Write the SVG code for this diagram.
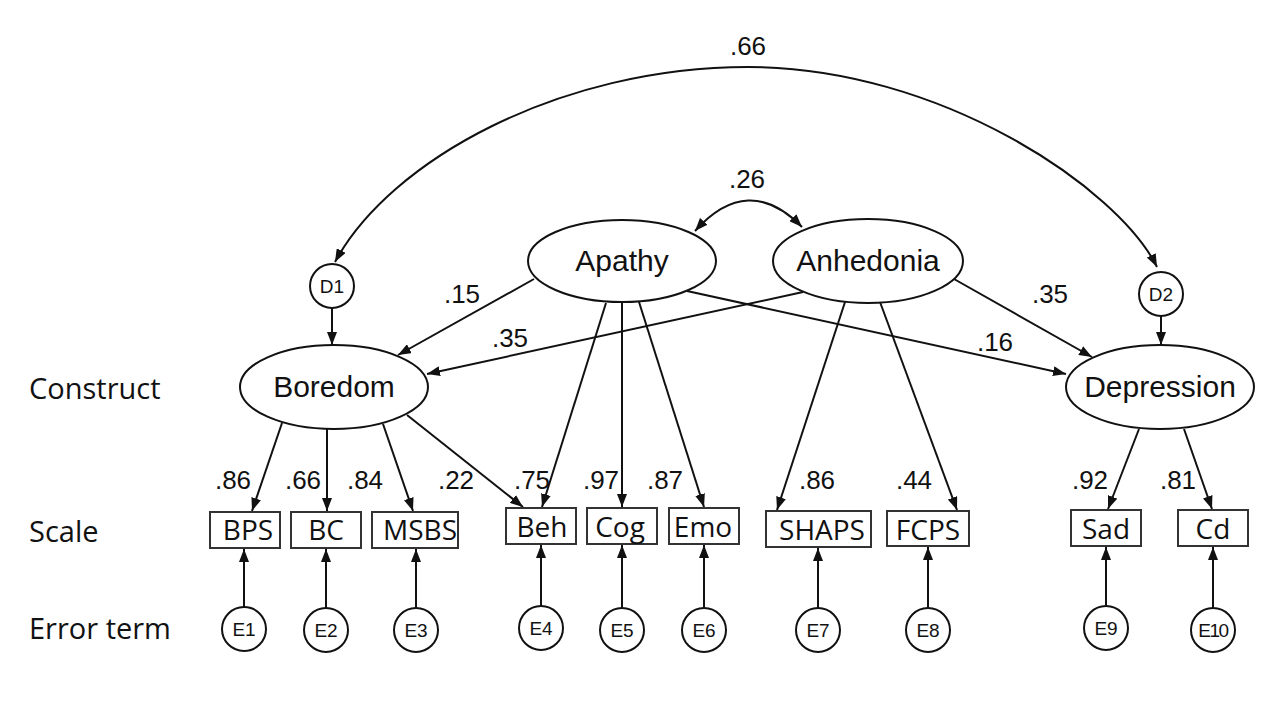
<svg xmlns="http://www.w3.org/2000/svg" width="1261" height="719" viewBox="0 0 1261 719">
<defs>
<marker id="ah" markerUnits="userSpaceOnUse" markerWidth="14" markerHeight="10" refX="13" refY="5" orient="auto-start-reverse">
<path d="M0,0 L13,5 L0,10 Z" fill="#111"/>
</marker>
</defs>
<style>
.lat{fill:#fff;stroke:#111;stroke-width:2}
.box{fill:#fff;stroke:#333;stroke-width:2}
.ec{fill:#fff;stroke:#111;stroke-width:2}
.e{fill:none;stroke:#111;stroke-width:2;marker-end:url(#ah)}
.bi{fill:none;stroke:#111;stroke-width:2;marker-start:url(#ah);marker-end:url(#ah)}
.nl{font-family:"Liberation Sans",Arial,sans-serif;font-size:30px;fill:#111;text-anchor:middle}
.num{font-family:"Liberation Sans",Arial,sans-serif;font-size:26px;fill:#111;text-anchor:middle}
.cl{font-family:"Liberation Sans",Arial,sans-serif;font-size:19px;fill:#111;text-anchor:middle}
.bl{font-family:"Open Sans","Liberation Sans",sans-serif;font-size:28px;fill:#111;text-anchor:middle}
.side{font-family:"Open Sans","Liberation Sans",sans-serif;font-size:29px;fill:#111}
</style>
<rect width="1261" height="719" fill="#fff"/>

<g id="connectors">
<path class="bi" d="M335,262 C390,160 560,67 748,67 C940,67 1118,188 1157,267"/>
<path class="bi" d="M695,231 Q748,172 802,227"/>
<line class="e" x1="534" y1="279" x2="398" y2="355"/>
<line class="e" x1="803" y1="292" x2="427" y2="374"/>
<line class="e" x1="687" y1="291" x2="1066" y2="374"/>
<line class="e" x1="954" y1="279" x2="1092" y2="357"/>
<line class="e" x1="332" y1="308" x2="332" y2="345"/>
<line class="e" x1="1161" y1="316" x2="1161" y2="345"/>
<line class="e" x1="282" y1="423" x2="252" y2="511"/>
<line class="e" x1="327" y1="429" x2="327" y2="511"/>
<line class="e" x1="383" y1="424" x2="413" y2="511"/>
<line class="e" x1="407" y1="415" x2="523" y2="507"/>
<line class="e" x1="606" y1="303" x2="542" y2="507"/>
<line class="e" x1="622" y1="303" x2="622" y2="507"/>
<line class="e" x1="639" y1="302" x2="704" y2="507"/>
<line class="e" x1="845" y1="302" x2="777" y2="510"/>
<line class="e" x1="880" y1="302" x2="957" y2="510"/>
<line class="e" x1="1139" y1="429" x2="1108" y2="509"/>
<line class="e" x1="1184" y1="429" x2="1212" y2="509"/>
<line class="e" x1="244" y1="607" x2="244" y2="549"/>
<line class="e" x1="326" y1="608" x2="326" y2="549"/>
<line class="e" x1="416" y1="608" x2="416" y2="549"/>
<line class="e" x1="541" y1="606" x2="541" y2="545"/>
<line class="e" x1="622" y1="608" x2="622" y2="545"/>
<line class="e" x1="704" y1="608" x2="704" y2="545"/>
<line class="e" x1="818" y1="608" x2="818" y2="548"/>
<line class="e" x1="928" y1="608" x2="928" y2="547"/>
<line class="e" x1="1106" y1="606" x2="1106" y2="547"/>
<line class="e" x1="1213" y1="608" x2="1213" y2="547"/>
</g>

<g id="edge-labels">
<text class="num" x="748" y="55">.66</text>
<text class="num" x="747" y="188">.26</text>
<text class="num" x="462" y="303">.15</text>
<text class="num" x="510" y="347">.35</text>
<text class="num" x="995" y="351">.16</text>
<text class="num" x="1050" y="303">.35</text>
<text class="num" x="233" y="489">.86</text>
<text class="num" x="303" y="489">.66</text>
<text class="num" x="365" y="489">.84</text>
<text class="num" x="456" y="489">.22</text>
<text class="num" x="532" y="489">.75</text>
<text class="num" x="601" y="489">.97</text>
<text class="num" x="665" y="489">.87</text>
<text class="num" x="817" y="489">.86</text>
<text class="num" x="914" y="489">.44</text>
<text class="num" x="1090" y="489">.92</text>
<text class="num" x="1178" y="489">.81</text>
</g>

<g id="side-labels">
<text class="side" x="29" y="399">Construct</text>
<text class="side" x="29" y="542">Scale</text>
<text class="side" x="29" y="639">Error term</text>
</g>

<g id="apathy"><ellipse class="lat" cx="622" cy="261" rx="94" ry="41"/><text class="nl" x="622" y="271">Apathy</text></g>
<g id="anhedonia"><ellipse class="lat" cx="868" cy="261" rx="95" ry="42"/><text class="nl" x="868" y="271">Anhedonia</text></g>
<g id="boredom"><ellipse class="lat" cx="334" cy="387" rx="94" ry="42"/><text class="nl" x="334" y="397">Boredom</text></g>
<g id="depression"><ellipse class="lat" cx="1160" cy="387" rx="94" ry="42"/><text class="nl" x="1160" y="397">Depression</text></g>

<g id="d1"><circle class="ec" cx="332" cy="286" r="22"/><text class="cl" x="332" y="293">D1</text></g>
<g id="d2"><circle class="ec" cx="1161" cy="294" r="22"/><text class="cl" x="1161" y="301">D2</text></g>

<g id="bps"><rect class="box" x="210" y="512" width="70" height="36"/><text class="bl" x="248" y="540">BPS</text></g>
<g id="bc"><rect class="box" x="291" y="512" width="70" height="36"/><text class="bl" x="326" y="540">BC</text></g>
<g id="msbs"><rect class="box" x="372" y="512" width="86" height="36"/><text class="bl" x="420" y="540">MSBS</text></g>
<g id="beh"><rect class="box" x="506" y="508" width="70" height="36"/><text class="bl" x="542" y="537">Beh</text></g>
<g id="cog"><rect class="box" x="587" y="508" width="70" height="36"/><text class="bl" x="620" y="537">Cog</text></g>
<g id="emo"><rect class="box" x="669" y="508" width="70" height="36"/><text class="bl" x="703" y="537">Emo</text></g>
<g id="shaps"><rect class="box" x="766" y="511" width="105" height="36"/><text class="bl" x="822" y="540">SHAPS</text></g>
<g id="fcps"><rect class="box" x="887" y="511" width="82" height="35"/><text class="bl" x="928" y="540">FCPS</text></g>
<g id="sad"><rect class="box" x="1071" y="510" width="70" height="36"/><text class="bl" x="1106" y="539">Sad</text></g>
<g id="cd"><rect class="box" x="1178" y="510" width="70" height="36"/><text class="bl" x="1213" y="539">Cd</text></g>

<g id="e1"><circle class="ec" cx="244" cy="629" r="22"/><text class="cl" x="244" y="636">E1</text></g>
<g id="e2"><circle class="ec" cx="326" cy="630" r="22"/><text class="cl" x="326" y="637">E2</text></g>
<g id="e3"><circle class="ec" cx="416" cy="630" r="22"/><text class="cl" x="416" y="637">E3</text></g>
<g id="e4"><circle class="ec" cx="541" cy="628" r="22"/><text class="cl" x="541" y="635">E4</text></g>
<g id="e5"><circle class="ec" cx="622" cy="630" r="22"/><text class="cl" x="622" y="637">E5</text></g>
<g id="e6"><circle class="ec" cx="704" cy="630" r="22"/><text class="cl" x="704" y="637">E6</text></g>
<g id="e7"><circle class="ec" cx="818" cy="630" r="22"/><text class="cl" x="818" y="637">E7</text></g>
<g id="e8"><circle class="ec" cx="928" cy="630" r="22"/><text class="cl" x="928" y="637">E8</text></g>
<g id="e9"><circle class="ec" cx="1106" cy="628" r="22"/><text class="cl" x="1106" y="635">E9</text></g>
<g id="e10"><circle class="ec" cx="1213" cy="630" r="22"/><text class="cl" x="1213" y="637" letter-spacing="-1.5">E10</text></g>
</svg>
